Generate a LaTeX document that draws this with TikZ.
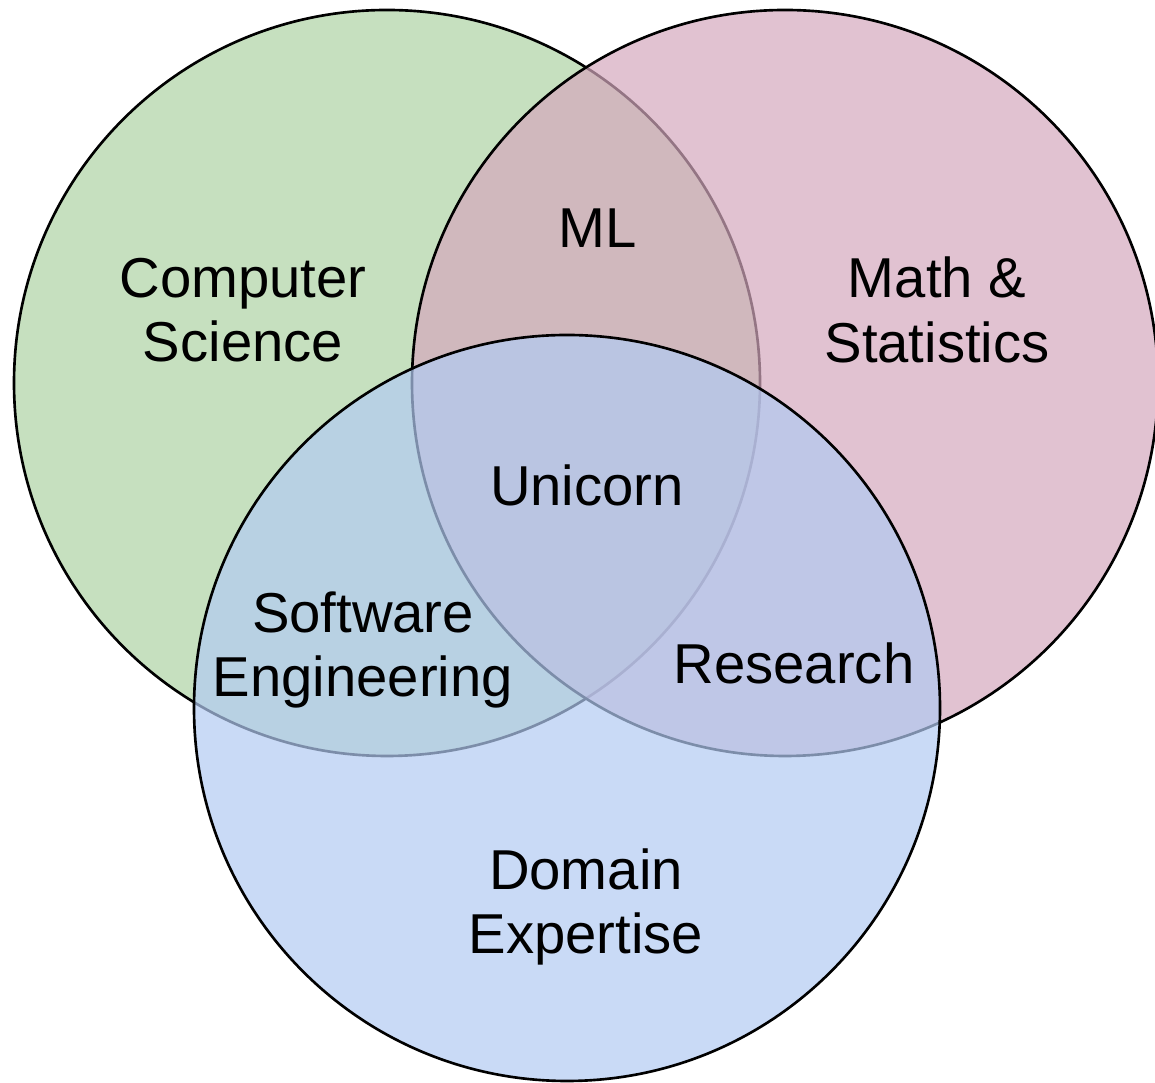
\documentclass[tikz,border=0pt]{standalone}
\usepackage{fontspec}
\setmainfont{Liberation Sans}
\usetikzlibrary{positioning}

\definecolor{csgreen}{RGB}{174,211,164}
\definecolor{mspink}{RGB}{212,168,189}
\definecolor{deblue}{RGB}{178,202,242}

\begin{document}
\begin{tikzpicture}[
    x=1cm, y=1cm,
    ]
% -------------------------------------------------
\tikzset{
  set/.style={draw, circle, line width=0.75pt, fill opacity=0.7, minimum size=7.46cm, inner sep=0pt},
  lbl/.style={align=center, font=\fontsize{16}{18.3}\selectfont, inner sep=0pt}
}
    \useasboundingbox (0,0) rectangle (11.55,10.83);

    \node [set, fill=csgreen] (cs) at (3.87,7.00) {};     % computer science
    \node [set, fill=mspink] (ms) at (7.85,7.00) {};      % math and statistics
    \node [set, fill=deblue] (de) at (5.67,3.75) {};      % domain expertise

    \node [lbl] (cslbl) at (2.43,7.73) {Computer\\Science};
    \node [lbl] (mslbl) at (9.37,7.73) {Math \&\\Statistics};
    \node [lbl] (ml) at (5.98,8.55) {ML};
    \node [lbl] (uni) at (5.87,5.98) {Unicorn};
    \node [lbl] (swe) at (3.63,4.33) {Software\\Engineering};
    \node [lbl] (res) at (7.94,4.20) {Research};
    \node [lbl] (delbl) at (5.86,1.76) {Domain\\Expertise};

\end{tikzpicture}
\end{document}
